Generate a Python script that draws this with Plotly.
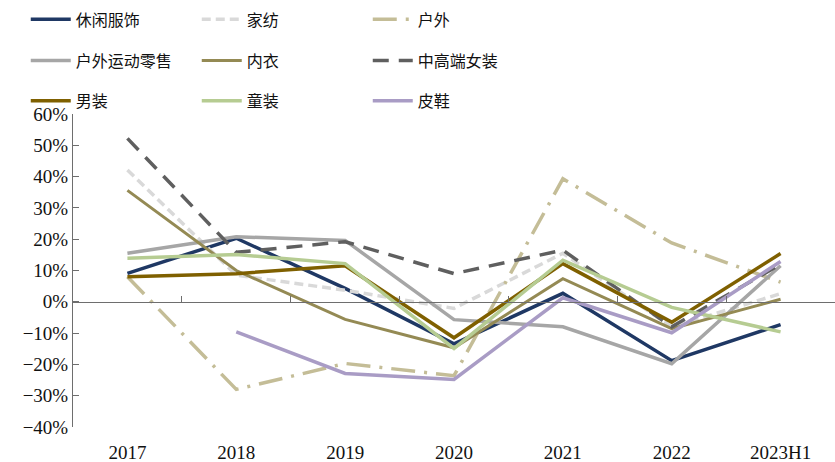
import plotly.graph_objects as go

# Year-over-year growth (%) by apparel segment
categories = ["2017", "2018", "2019", "2020", "2021", "2022", "2023H1"]

casual_wear = [9.1, 20.3, 4.3, -13.4, 2.7, -18.8, -7.3]        # 休闲服饰
home_textile = [42.1, 8.5, 3.7, -2.1, 15.5, -8.0, 2.6]         # 家纺
outdoor = [8.0, -28.0, -19.7, -23.6, 39.3, 18.8, 6.3]          # 户外
outdoor_sports_retail = [15.5, 20.8, 19.6, -5.7, -8.0, -19.8, 11.5]  # 户外运动零售
underwear = [35.6, 10.0, -5.6, -14.7, 7.4, -8.6, 0.8]          # 内衣
womens_mid_high = [52.2, 15.8, 19.2, 9.0, 16.5, -8.0, 12.0]    # 中高端女装
menswear = [8.0, 9.0, 11.5, -11.5, 12.2, -6.5, 15.4]           # 男装
kidswear = [13.9, 15.1, 12.2, -14.9, 13.3, -1.8, -9.6]         # 童装
leather_shoes = [None, -9.6, -22.9, -24.8, 1.3, -9.9, 12.9]    # 皮鞋

series = [
    ("休闲服饰", casual_wear, "#1F3864", "solid", 3.5, "legend"),
    ("家纺", home_textile, "#D9D9D9", "9px,5px", 3.5, "legend"),
    ("户外", outdoor, "#C4BD97", "24px,9px,3px,9px", 3.5, "legend"),
    ("户外运动零售", outdoor_sports_retail, "#A6A6A6", "solid", 3.5, "legend2"),
    ("内衣", underwear, "#948A54", "solid", 3, "legend2"),
    ("中高端女装", womens_mid_high, "#5F5F5F", "16px,10px", 3.5, "legend2"),
    ("男装", menswear, "#7F6000", "solid", 3.5, "legend3"),
    ("童装", kidswear, "#B6CC92", "solid", 3.5, "legend3"),
    ("皮鞋", leather_shoes, "#A99CC5", "solid", 3.5, "legend3"),
]

FONT = "Liberation Serif, Times New Roman, Noto Sans CJK SC"
AXIS_COLOR = "#6E6E6E"

fig = go.Figure()
for name, vals, color, dash, width, legend in series:
    fig.add_trace(go.Scatter(
        x=categories, y=vals, name=name, mode="lines",
        line=dict(color=color, width=width, dash=dash),
        connectgaps=False, legend=legend,
    ))

# empty trace so the zero-line axis (x2) gets drawn
fig.add_trace(go.Scatter(
    x=[], y=[], xaxis="x2", yaxis="y", showlegend=False,
    hoverinfo="skip", mode="lines",
))

legend_common = dict(
    orientation="h", xanchor="left", yanchor="middle",
    x=-0.062, entrywidth=116, entrywidthmode="pixels",
    font=dict(family=FONT, size=16, color="#111111"),
    bgcolor="rgba(0,0,0,0)", itemwidth=40,
    traceorder="normal",
)

fig.update_layout(
    width=835, height=462,
    margin=dict(l=73, r=0, t=114, b=35),
    paper_bgcolor="white", plot_bgcolor="white",
    font=dict(family=FONT, size=19, color="#111111"),
    showlegend=True,
    legend=dict(legend_common, y=1.302),
    legend2=dict(legend_common, y=1.171),
    legend3=dict(legend_common, y=1.042),
    xaxis=dict(
        type="category", categoryorder="array", categoryarray=categories,
        range=[-0.5, len(categories) - 0.5],
        showline=False, ticks="", showgrid=False, zeroline=False,
        tickfont=dict(family=FONT, size=19, color="#111111"),
        ticklabelstandoff=12,
    ),
    # category boundaries marked along the zero line
    xaxis2=dict(
        overlaying="x", anchor="free", position=0.4, side="bottom",
        range=[-0.5, len(categories) - 0.5],
        tickmode="array", tickvals=[i + 0.5 for i in range(len(categories) - 1)],
        ticks="inside", ticklen=6, tickcolor=AXIS_COLOR, tickwidth=1,
        showticklabels=False, showline=True, linecolor=AXIS_COLOR, linewidth=1,
        showgrid=False, zeroline=False,
    ),
    yaxis=dict(
        range=[-40, 60], dtick=10, tick0=0, ticksuffix="%",
        ticks="inside", ticklen=6, tickcolor=AXIS_COLOR, tickwidth=1,
        showline=True, linecolor=AXIS_COLOR, linewidth=1,
        showgrid=False, zeroline=False,
        tickfont=dict(family=FONT, size=19, color="#111111"),
    ),
)

fig.write_html("out.html")
